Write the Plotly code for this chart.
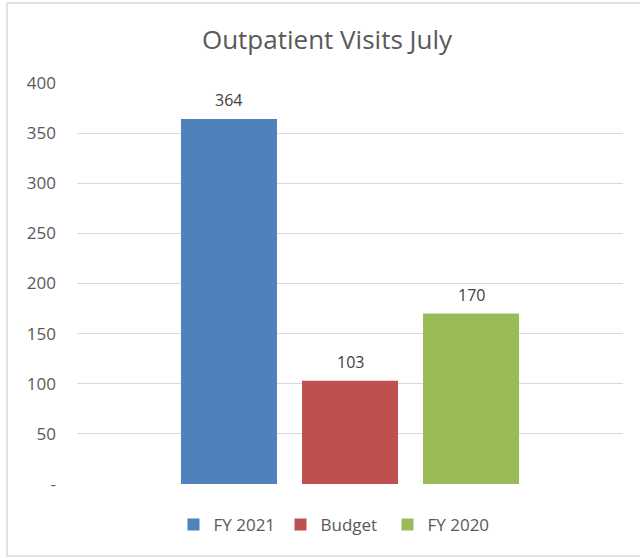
import plotly.graph_objects as go

category = ["July"]
series_names = ["FY 2021", "Budget", "FY 2020"]
series_values = [[364], [103], [170]]
series_colors = ["#4F81BD", "#C0504D", "#9BBB59"]
tick_vals = [0, 50, 100, 150, 200, 250, 300, 350, 400]
tick_text = ["-", "50", "100", "150", "200", "250", "300", "350", "400"]

W, H = 640, 558
L, R, T, B = 77, 17, 83, 74
pw, ph = W - L - R, H - T - B
bargap, bargroupgap = 0.335, 0.2066
slot_px = (1 - bargap) / len(series_names) * pw

fig = go.Figure()
annotations = []
for i, (name, vals, col) in enumerate(zip(series_names, series_values, series_colors)):
    fig.add_trace(go.Bar(
        x=category, y=vals, name=name, marker=dict(color=col, line=dict(width=0)),
    ))
    off = (i - (len(series_names) - 1) / 2) * slot_px
    for c, v in zip(category, vals):
        annotations.append(dict(
            x=c, y=v, xref="x", yref="y", text=str(v), showarrow=False,
            xshift=off, yshift=19, yanchor="middle",
            font=dict(family="Open Sans", size=16, color="#404040"),
        ))

fig.update_layout(
    width=W, height=H,
    margin=dict(l=L, r=R, t=T, b=B),
    paper_bgcolor="white", plot_bgcolor="white",
    barmode="group", bargap=bargap, bargroupgap=bargroupgap,
    title=dict(text="Outpatient Visits July", x=327 / W, xanchor="center",
               y=1 - 40 / H, yanchor="middle",
               font=dict(family="Open Sans", size=26, color="#595959")),
    font=dict(family="Open Sans", color="#595959"),
    showlegend=True,
    legend=dict(orientation="h", x=(334 - L) / pw, xanchor="center", y=-(525 - 484) / ph, yanchor="middle",
                font=dict(family="Open Sans", size=17, color="#595959"),
                itemwidth=30, entrywidth=62, traceorder="normal"),
    xaxis=dict(showticklabels=False, showgrid=False, zeroline=False, showline=False, ticks=""),
    yaxis=dict(range=[0, 400], tickvals=tick_vals, ticktext=tick_text, showgrid=True,
               gridcolor="#D9D9D9", gridwidth=1, zeroline=False, showline=False, ticks="",
               ticklabelstandoff=20, tickfont=dict(family="Open Sans", size=17, color="#595959")),
    annotations=annotations,
    shapes=[dict(type="rect", xref="paper", yref="paper",
                 x0=(7 - L) / pw, x1=(646 - L) / pw,
                 y0=(H - B - 556) / ph, y1=(H - B - 3) / ph,
                 line=dict(color="#D9D9D9", width=1.5), fillcolor="rgba(0,0,0,0)", layer="below")],
)

fig.write_html("out.html")
